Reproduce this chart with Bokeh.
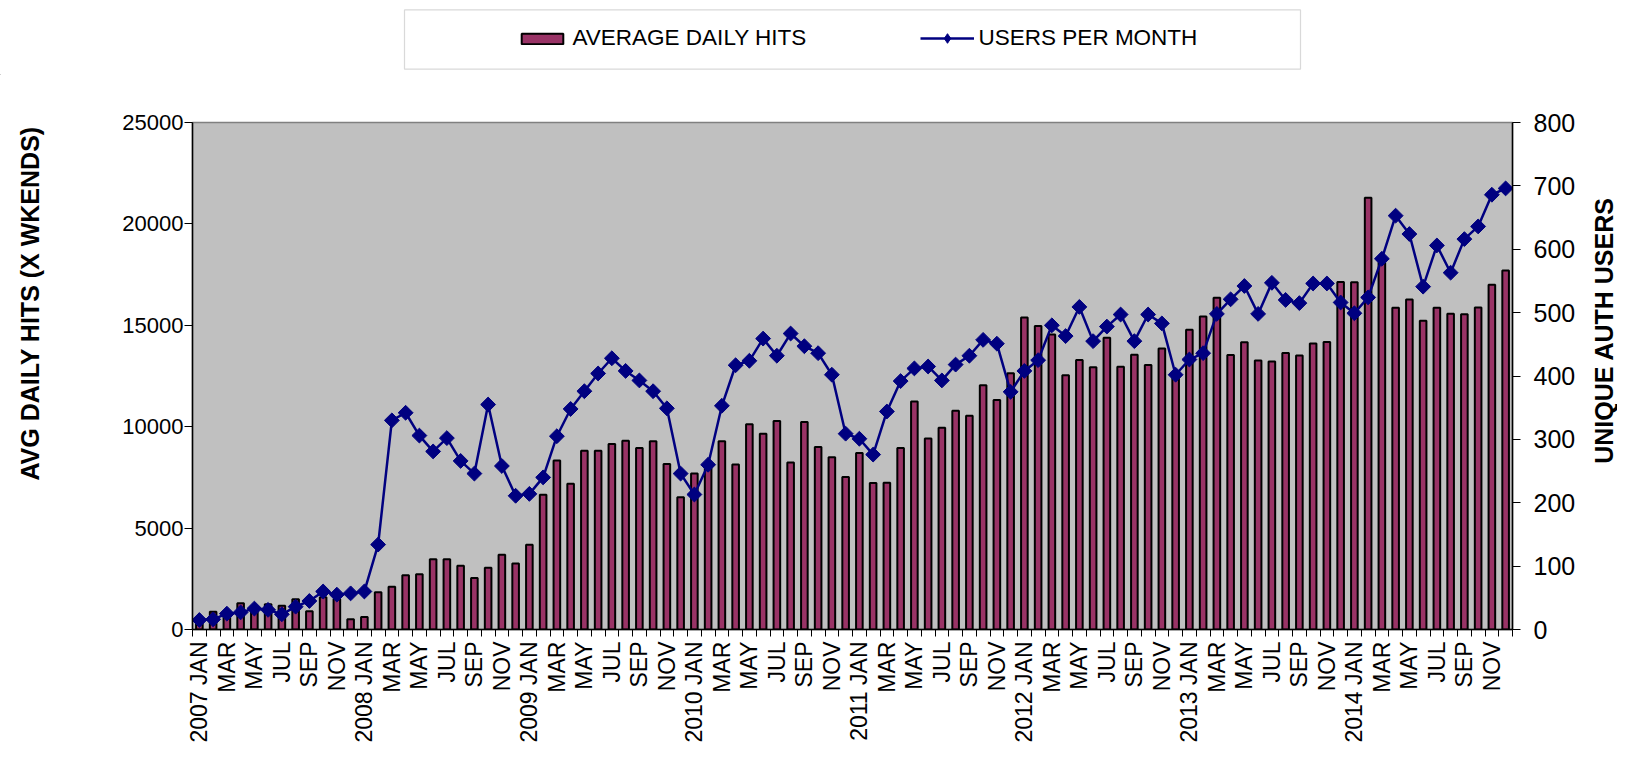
import math
from bokeh.plotting import figure
from bokeh.layouts import column, row
from bokeh.models import (Range1d, LinearAxis, FixedTicker, SingleIntervalTicker,
                          Legend, LegendItem, Label, BoxAnnotation, Plot)
from bokeh.embed import file_html
from bokeh.resources import INLINE

years = [2007, 2008, 2009, 2010, 2011, 2012, 2013, 2014]
months = ["JAN", "FEB", "MAR", "APR", "MAY", "JUN", "JUL", "AUG", "SEP", "OCT", "NOV", "DEC"]

avg_daily_hits = [
    400, 880, 650, 1300, 1150, 1250, 1170, 1490, 900, 1590, 1500, 500,
    620, 1840, 2110, 2680, 2730, 3460, 3460, 3140, 2540, 3040, 3680, 3260,
    4180, 6640, 8330, 7190, 8810, 8810, 9150, 9310, 8950, 9280, 8160, 6520,
    7690, 8000, 9280, 8140, 10120, 9650, 10280, 8230, 10230, 9000, 8490, 7520,
    8700, 7220, 7240, 8950, 11240, 9420, 9950, 10790, 10540, 12040, 11320, 12630,
    15390, 14970, 14550, 12540, 13290, 12930, 14380, 12960, 13550, 13040, 13850, 12500,
    14780, 15440, 16360, 13530, 14170, 13260, 13210, 13630, 13510, 14100, 14180, 17140,
    17120, 21290, 18100, 15860, 16270, 15220, 15860, 15570, 15540, 15880, 17000, 17700,
]
users_per_month = [
    15, 16, 25, 27, 33, 31, 24, 36, 45, 60, 55, 57,
    60, 134, 330, 342, 306, 281, 302, 266, 246, 355, 258, 211,
    214, 240, 305, 348, 376, 404, 428, 408, 393, 376, 349, 246,
    213, 260, 353, 417, 424, 459, 432, 467, 447, 436, 402, 309,
    301, 276, 344, 392, 412, 415, 393, 418, 432, 457, 451, 375,
    408, 425, 480, 463, 509, 455, 478, 497, 455, 497, 483, 402,
    426, 436, 498, 521, 542, 498, 547, 520, 515, 546, 546, 516,
    499, 524, 585, 653, 624, 541, 606, 563, 616, 636, 686, 696,
]
series_names = ["AVERAGE DAILY HITS", "USERS PER MONTH"]
left_title = "AVG DAILY HITS (X WKENDS)"
right_title = "UNIQUE AUTH USERS"

n = len(avg_daily_hits)
xs = list(range(n))
tick_labels = {}
for i in xs:
    m = i % 12
    if m % 2 == 0:
        tick_labels[i] = f"{years[i // 12]} {months[m]}" if m == 0 else months[m]

FONT = "Liberation Sans"
BAR_FILL = "#993366"
LINE_COL = "#000080"

W, H = 1617, 745
TOP_H = 75                     # strip holding the legend
ROW_H = H - TOP_H
LT_W, RT_W = 60, 29            # strips holding the axis titles
MAIN_W = W - LT_W - RT_W
FRAME_L, FRAME_T, FRAME_R, FRAME_B = 192, 122, 1512, 637.5   # page pixels

HAS_FRAME_ALIGN = "frame_align" in Plot.properties()


def blank(width, height, free=False):
    kw = {}
    if free and HAS_FRAME_ALIGN:
        kw["frame_align"] = False
    f = figure(width=width, height=height, output_backend="svg", toolbar_location=None,
               x_axis_type=None, y_axis_type=None,
               x_range=Range1d(0, width), y_range=Range1d(0, height),
               min_border=0, **kw)
    f.outline_line_color = None
    f.background_fill_color = "white"
    f.border_fill_color = "white"
    f.xgrid.visible = False
    f.ygrid.visible = False
    return f


# ---------------- main chart ----------------
p = figure(width=MAIN_W, height=ROW_H, output_backend="svg", toolbar_location=None,
           x_range=Range1d(-0.5, n - 0.5), y_range=Range1d(0, 25000),
           min_border_left=FRAME_L - LT_W, min_border_right=LT_W + MAIN_W - FRAME_R,
           min_border_top=FRAME_T - TOP_H, min_border_bottom=int(H - FRAME_B))
p.extra_y_ranges = {"users": Range1d(0, 800)}
p.background_fill_color = "#C0C0C0"
p.border_fill_color = "white"
p.outline_line_color = "#808080"
p.outline_line_width = 1.5
p.xgrid.visible = False
p.ygrid.visible = False

p.vbar(x=xs, top=avg_daily_hits, width=0.48, fill_color=BAR_FILL,
       line_color="black", line_width=2)
p.line(xs, users_per_month, y_range_name="users", line_color=LINE_COL, line_width=2.5)
p.scatter(xs, users_per_month, y_range_name="users", marker="square",
          angle=math.pi / 4, size=10.5, fill_color=LINE_COL, line_color=LINE_COL)

ax = p.xaxis[0]
ax.ticker = FixedTicker(ticks=list(tick_labels.keys()),
                        minor_ticks=[i - 0.5 for i in range(n + 1)])
ax.major_label_overrides = tick_labels
ax.major_tick_out = 0
ax.major_tick_in = 0
ax.minor_tick_out = 7
ax.minor_tick_in = 0
ax.minor_tick_line_color = "black"
ax.major_label_orientation = math.pi / 2
ax.major_label_standoff = 5
ax.major_label_text_font = FONT
ax.major_label_text_font_size = "23px"
ax.major_label_text_color = "black"
ax.axis_line_color = "black"
ax.axis_line_width = 1.5

ly = p.yaxis[0]
ly.ticker = SingleIntervalTicker(interval=5000)
ly.minor_tick_line_color = None
ly.major_tick_out = 8
ly.major_tick_in = 0
ly.major_tick_line_color = "black"
ly.major_label_standoff = 1
ly.major_label_text_font = FONT
ly.major_label_text_font_size = "22px"
ly.major_label_text_color = "black"
ly.axis_line_color = "black"
ly.axis_line_width = 1.5

ry = LinearAxis(y_range_name="users", ticker=SingleIntervalTicker(interval=100))
ry.minor_tick_line_color = None
ry.major_tick_out = 8
ry.major_tick_in = 0
ry.major_tick_line_color = "black"
ry.major_label_standoff = 13
ry.major_label_text_font = FONT
ry.major_label_text_font_size = "25px"
ry.major_label_text_color = "black"
ry.axis_line_color = "black"
ry.axis_line_width = 1.5
p.add_layout(ry, "right")

# ---------------- axis titles ----------------
strip_bottom = H if HAS_FRAME_ALIGN else FRAME_B


def title_label(txt, cx, cy):
    return Label(x=cx, y=strip_bottom - cy, x_units="screen", y_units="screen",
                 text=txt, angle=math.pi / 2, text_align="center",
                 text_baseline="middle", text_font=FONT, text_font_size="25px",
                 text_font_style="bold", text_color="black")


p_lt = blank(LT_W, ROW_H, free=True)
p_lt.add_layout(title_label(left_title, 29, 303))
p_rt = blank(RT_W, ROW_H, free=True)
p_rt.add_layout(title_label(right_title, 15, 330))

# ---------------- legend strip ----------------
p_top = blank(W, TOP_H)
p_top.add_layout(BoxAnnotation(left=404, right=1300, top=TOP_H - 9.4, bottom=TOP_H - 68.7,
                               left_units="screen", right_units="screen",
                               top_units="screen", bottom_units="screen",
                               fill_alpha=0, line_color="#808080", line_width=1.2))
# legend swatch renderers, kept far outside the visible strip
sw_bar = p_top.vbar(x=[-1000], top=[-1000], bottom=[-1001], width=1, fill_color=BAR_FILL,
                    line_color="black", line_width=2)
sw_line = p_top.line([-1010, -1000], [-1000, -1000], line_color=LINE_COL, line_width=2.5)
sw_pt = p_top.scatter([-1000], [-1000], marker="diamond", size=14,
                      fill_color=LINE_COL, line_color=LINE_COL)

common = dict(orientation="horizontal", padding=0, margin=0, spacing=0,
              label_standoff=5, border_line_color=None, background_fill_alpha=0,
              label_text_font=FONT, label_text_font_size="22.5px",
              label_text_color="black", label_height=24)
p_top.add_layout(Legend(items=[LegendItem(label=series_names[0], renderers=[sw_bar])],
                        location=(515.5, TOP_H - 51), glyph_width=52, glyph_height=13,
                        **common))
p_top.add_layout(Legend(items=[LegendItem(label=series_names[1], renderers=[sw_line, sw_pt])],
                        location=(919.6, TOP_H - 51), glyph_width=54, glyph_height=24,
                        **common))

layout = column(p_top, row(p_lt, p, p_rt))
open("out.html", "w").write(file_html(layout, INLINE))
